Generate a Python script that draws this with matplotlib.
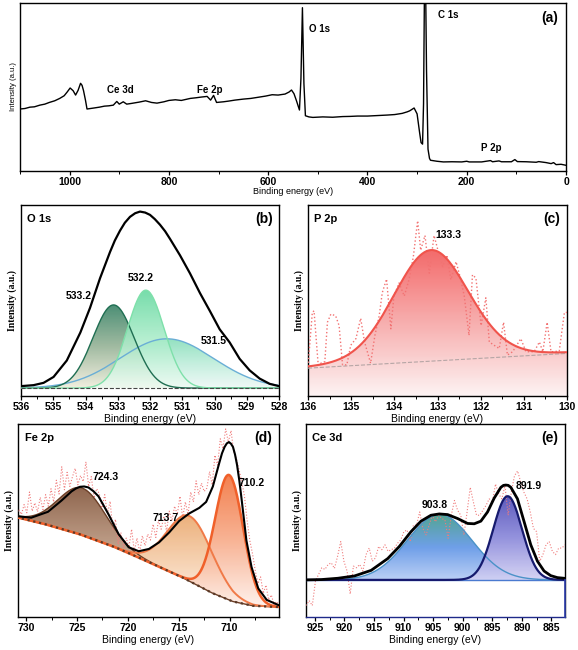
import numpy as np
import matplotlib
matplotlib.use('Agg')
import matplotlib.pyplot as plt
from matplotlib.colors import LinearSegmentedColormap
from matplotlib.ticker import MultipleLocator

plt.rcParams['font.family'] = ['Liberation Sans', 'DejaVu Sans']
plt.rcParams['font.weight'] = 'bold'

# ---------------- (a) survey spectrum ----------------
survey_ev = [1100, 1090, 1080, 1071, 1060, 1050, 1041, 1030, 1020, 1011, 1005, 999, 993, 988, 983,
             978, 975, 972, 968, 965, 958, 951, 940, 930, 921, 912, 905, 900, 892, 885, 876, 860,
             847, 835, 824, 810, 800, 787, 775, 757, 745, 735, 723, 716, 710, 704, 690, 680, 667,
             650, 635, 622, 605, 592, 580, 566, 558, 553, 548, 543, 537, 534, 531, 528, 525, 518,
             510, 490, 470, 450, 435, 420, 400, 380, 360, 345, 330, 320, 315, 306, 300, 295, 292,
             289, 287, 285, 283, 281, 278, 275, 273, 260, 247, 230, 210, 200, 195, 170, 152, 148,
             135, 130, 110, 103, 98, 80, 60, 55, 40, 30, 25, 20, 10, 0]
survey_int = [0.369, 0.372, 0.380, 0.382, 0.392, 0.398, 0.408, 0.418, 0.432, 0.448, 0.470, 0.494,
              0.478, 0.452, 0.480, 0.522, 0.510, 0.478, 0.420, 0.369, 0.372, 0.375, 0.380, 0.386,
              0.388, 0.392, 0.414, 0.398, 0.412, 0.398, 0.402, 0.410, 0.418, 0.408, 0.404, 0.412,
              0.420, 0.424, 0.420, 0.432, 0.436, 0.440, 0.444, 0.422, 0.450, 0.408, 0.412, 0.416,
              0.422, 0.428, 0.432, 0.438, 0.446, 0.454, 0.452, 0.458, 0.470, 0.482, 0.460, 0.418,
              0.363, 0.550, 0.972, 0.520, 0.329, 0.322, 0.319, 0.322, 0.320, 0.324, 0.325, 0.327,
              0.327, 0.330, 0.333, 0.336, 0.343, 0.352, 0.358, 0.375, 0.340, 0.230, 0.169, 0.160,
              0.400, 1.150, 1.150, 0.600, 0.130, 0.075, 0.064, 0.058, 0.054, 0.055, 0.054, 0.058,
              0.054, 0.054, 0.062, 0.055, 0.060, 0.055, 0.055, 0.068, 0.056, 0.055, 0.052, 0.056,
              0.050, 0.044, 0.050, 0.038, 0.040, 0.034]
survey_labels = ['O 1s', 'C 1s', 'Ce 3d', 'Fe 2p', 'P 2p']
survey_label_ev = [517, 258, 925, 743, 172]
survey_label_int = [0.847, 0.926, 0.482, 0.482, 0.139]

# ---------------- (b) O 1s ----------------
o1s_env_ev = [536.00, 535.61, 535.30, 534.99, 534.58, 534.16, 533.86, 533.55, 533.24, 533.09,
              532.93, 532.78, 532.62, 532.46, 532.31, 532.15, 532.00, 531.85, 531.69, 531.53,
              531.38, 531.07, 530.76, 530.45, 530.14, 529.84, 529.53, 529.22, 528.91, 528.60,
              528.29, 528.00]
o1s_env_int = [30, 33, 40, 58, 108, 193, 268, 358, 438, 473, 503, 527, 545, 556, 561, 558, 551,
               538, 521, 501, 478, 428, 373, 313, 258, 203, 163, 113, 78, 53, 37, 30]
o1s_base = 24
o1s_center = [533.13, 532.13, 531.48]
o1s_height = [253, 298, 150]
o1s_fwhm = [1.5, 1.34, 3.4]
o1s_labels = ['533.2', '532.2', '531.5']
o1s_label_ev = [534.22, 532.29, 530.04]
o1s_label_int = [303, 358, 168]

# ---------------- (c) P 2p ----------------
p2p_raw_ev = [136.00, 135.90, 135.86, 135.77, 135.71, 135.61, 135.55, 135.47, 135.36, 135.28,
              135.20, 135.10, 135.01, 134.89, 134.78, 134.69, 134.55, 134.45, 134.35, 134.28,
              134.18, 134.08, 134.01, 133.89, 133.77, 133.66, 133.56, 133.46, 133.39, 133.29,
              133.19, 133.08, 132.98, 132.88, 132.78, 132.69, 132.57, 132.46, 132.38, 132.27,
              132.19, 132.11, 131.99, 131.88, 131.80, 131.69, 131.57, 131.47, 131.38, 131.26,
              131.07, 130.95, 130.76, 130.64, 130.56, 130.46, 130.37, 130.18, 130.06, 130.00]
p2p_raw_int = [90, 255, 260, 105, 100, 105, 225, 250, 245, 215, 95, 95, 155, 175, 237, 165, 100,
               185, 245, 315, 357, 205, 305, 345, 305, 355, 425, 535, 445, 490, 375, 490, 440, 395,
               430, 355, 410, 355, 305, 185, 370, 360, 215, 300, 165, 155, 145, 225, 125, 135, 175,
               135, 135, 165, 135, 225, 135, 137, 255, 255]
p2p_base_ev = [136.0, 130.0]
p2p_base_int = [85, 130]
p2p_center, p2p_height, p2p_fwhm = 133.15, 339, 2.05

# ---------------- (d) Fe 2p ----------------
fe_bg_ev = [730.99, 727.85, 724.55, 721.24, 717.93, 714.63, 711.65, 709.67, 707.69, 705.11]
fe_bg_int = [304, 280, 250, 212, 167, 120, 72, 47, 34, 30]
fe_env_ev = [730.99, 729.50, 727.85, 726.53, 725.54, 725.10, 724.71, 724.30, 723.88, 723.40,
             722.89, 721.90, 720.91, 719.92, 718.93, 717.93, 716.94, 715.95, 714.96, 713.97,
             712.98, 712.31, 711.65, 711.30, 710.99, 710.75, 710.50, 710.28, 710.07, 709.87,
             709.67, 709.47, 709.27, 709.05, 708.84, 708.35, 707.85, 707.19, 706.36, 705.11]
fe_env_int = [307, 302, 320, 354, 382, 391, 396, 397, 394, 383, 367, 312, 252, 212, 200, 207,
              227, 257, 292, 315, 332, 350, 397, 437, 472, 498, 517, 528, 532, 527, 517, 494, 462,
              415, 362, 232, 152, 87, 52, 35]
fe_raw_int = [312, 327, 312, 342, 317, 380, 322, 347, 320, 364, 327, 372, 337, 390, 350, 416, 374,
              457, 387, 440, 397, 427, 452, 402, 430, 412, 472, 397, 427, 362, 390, 374, 332, 372,
              312, 352, 267, 297, 222, 257, 212, 240, 212, 267, 200, 240, 197, 247, 217, 252, 234,
              282, 242, 294, 267, 307, 260, 322, 292, 337, 312, 367, 302, 350, 312, 380, 350, 414,
              372, 407, 382, 392, 442, 402, 492, 462, 542, 512, 572, 532, 567, 502, 482, 447, 412,
              367, 292, 232, 192, 142, 102, 122, 72, 97, 52, 67, 37, 47, 34]
fe_center = [724.5, 713.9, 710.05]
fe_height = [143, 198, 380]
fe_fwhm = [5.5, 5.2, 3.25]
fe_labels = ['724.3', '713.7', '710.2']
fe_label_ev = [722.23, 716.28, 707.85]
fe_label_int = [427, 302, 407]

# ---------------- (e) Ce 3d ----------------
ce_env_ev = [926.46, 923.93, 921.12, 918.31, 915.49, 912.68, 910.71, 908.74, 907.05, 905.37,
             903.96, 902.55, 900.86, 899.18, 898.05, 896.93, 895.80, 894.68, 893.55, 893.10,
             892.71, 892.30, 891.86, 890.74, 889.61, 888.49, 887.36, 886.24, 885.11, 883.99,
             882.86]
ce_env_int = [113, 114, 118, 125, 142, 178, 215, 260, 292, 310, 314, 312, 300, 285, 284, 292, 320,
              362, 395, 401, 402, 401, 395, 360, 290, 220, 170, 140, 126, 120, 118]
ce_raw_int = [35, 50, 35, 110, 130, 150, 145, 160, 165, 148, 185, 230, 170, 140, 70, 155, 150, 160,
              140, 190, 210, 170, 180, 215, 205, 220, 200, 205, 210, 225, 235, 260, 265, 230, 280,
              280, 320, 270, 250, 280, 310, 290, 310, 300, 295, 240, 310, 355, 325, 310, 250, 320,
              395, 350, 310, 310, 325, 340, 360, 350, 405, 375, 360, 400, 310, 380, 430, 445, 410,
              380, 360, 320, 270, 260, 170, 190, 220, 230, 200, 190, 210, 210, 220]
ce_base = 113
ce_center = [903.9, 892.4]
ce_height = [200, 255]
ce_fwhm = [12.8, 5.74]
ce_labels = ['903.8', '891.9']
ce_label_ev = [904.8, 888.77]
ce_label_int = [340, 398]


def peak(e, c, h, fwhm, eta=0.0):
    x = (e - c) / (fwhm / 2.0)
    return h * ((1 - eta) * np.exp(-np.log(2) * x ** 2) + eta / (1 + x ** 2))


def grad_fill(ax, x, ylo, yhi, colors, alpha=1.0, z=1):
    poly = ax.fill_between(x, ylo, yhi, facecolor='none', edgecolor='none')
    cmap = LinearSegmentedColormap.from_list('g', colors)
    img = np.linspace(0, 1, 256).reshape(-1, 1)
    im = ax.imshow(img, cmap=cmap, aspect='auto', origin='upper', interpolation='bilinear',
                   extent=[np.min(x), np.max(x), np.min(ylo), np.max(yhi)],
                   alpha=alpha, zorder=z)
    im.set_clip_path(poly.get_paths()[0], transform=ax.transData)


def style(ax, xlim, ylim, major, minor):
    ax.set_xlim(xlim)
    ax.set_ylim(ylim)
    ax.set_yticks([])
    ax.xaxis.set_major_locator(MultipleLocator(major))
    ax.xaxis.set_minor_locator(MultipleLocator(minor))
    ax.tick_params(axis='x', which='major', direction='out', length=3, width=0.9,
                   labelsize=7.5, pad=1.5)
    ax.tick_params(axis='x', which='minor', direction='out', length=2, width=0.7)
    for s in ax.spines.values():
        s.set_linewidth(1.0)


def detail_labels(ax, name, tag):
    ax.set_xlabel('Binding energy (eV)', fontsize=7.5, labelpad=1)
    ax.set_ylabel('Intensity (a.u.)', fontsize=7, family='Liberation Serif',
                  fontweight='bold', labelpad=3)
    ax.text(0.025, 0.925, name, transform=ax.transAxes, fontsize=8, ha='left', va='center')
    ax.text(0.975, 0.925, tag, transform=ax.transAxes, fontsize=10, ha='right', va='center')


fig = plt.figure(figsize=(5.78, 6.5), dpi=100)

# (a)
ax = fig.add_axes([20 / 578, 479 / 650, 546 / 578, 168 / 650])
ax.plot(survey_ev, survey_int, color='black', lw=1.0)
style(ax, (1100, 0), (0, 1.0), 200, 100)
ax.set_xlabel('Binding energy (eV)', fontsize=6.5, fontweight='normal', labelpad=0)
ax.set_ylabel('Intensity (a.u.)', fontsize=5.5, fontweight='normal', labelpad=2)
for lab, e, i in zip(survey_labels, survey_label_ev, survey_label_int):
    ax.text(e, i, lab, fontsize=7, ha='left', va='center')
ax.text(0.985, 0.91, '(a)', transform=ax.transAxes, fontsize=10, ha='right', va='center')

# (b)
ax = fig.add_axes([21 / 578, 254 / 650, 258 / 578, 191 / 650])
grid = np.linspace(528, 536, 500)
b_fill = [['#7fdcb5', '#b9ecd8', '#eef8f6'],
          ['#2a7a5c', '#8fae90', '#f3eedc'],
          ['#5fd79c', '#a8ecc8', '#eefbf3']]
b_line = ['#6aaed6', '#1f6e52', '#7ee0aa']
for k, idx in enumerate([2, 0, 1]):
    comp = o1s_base + peak(grid, o1s_center[idx], o1s_height[idx], o1s_fwhm[idx])
    grad_fill(ax, grid, o1s_base, comp, b_fill[k], alpha=0.85, z=1 + k)
    ax.plot(grid, comp, color=b_line[k], lw=1.0, zorder=4)
ax.plot([536, 528], [o1s_base, o1s_base], color='#444444', ls='--', lw=0.8, zorder=4)
ax.plot(o1s_env_ev, o1s_env_int, color='black', lw=1.6, zorder=5)
for lab, e, i in zip(o1s_labels, o1s_label_ev, o1s_label_int):
    ax.text(e, i, lab, fontsize=7.5, ha='center', va='center', zorder=6)
style(ax, (536, 528), (0, 581), 1, 0.5)
detail_labels(ax, 'O 1s', '(b)')

# (c)
ax = fig.add_axes([308 / 578, 254 / 650, 259 / 578, 191 / 650])
grid = np.linspace(130, 136, 500)
base = np.interp(grid, p2p_base_ev[::-1], p2p_base_int[::-1])
fit = base + peak(grid, p2p_center, p2p_height, p2p_fwhm, eta=0.1)
grad_fill(ax, grid, 0, fit, ['#f25a5a', '#f7a6a6', '#fdf2f2'], alpha=0.9, z=1)
ax.plot(p2p_base_ev, p2p_base_int, color='#b5a5a5', ls='--', lw=0.8, zorder=3)
ax.plot(p2p_raw_ev, p2p_raw_int, color='#f27272', ls=':', lw=1.0, zorder=3)
ax.plot(grid, fit, color='#f0544c', lw=1.5, zorder=4)
ax.text(133.05, 490, '133.3', fontsize=7.5, ha='left', va='center', zorder=6)
style(ax, (136, 130), (0, 583), 1, 0.5)
detail_labels(ax, 'P 2p', '(c)')

# (d)
ax = fig.add_axes([18 / 578, 33 / 650, 261 / 578, 193 / 650])
grid = np.linspace(705.11, 730.99, 600)
bg = np.interp(grid, fe_bg_ev[::-1], fe_bg_int[::-1])
d_fill = [['#7b4a2e', '#b58f75', '#f3ebe2'],
          ['#e9a264', '#f5caa4', '#fdf1e7'],
          ['#f26a30', '#f7a682', '#fff0ea']]
d_line = ['#6b3e26', '#f07a48', '#f0602a']
d_lw = [1.0, 1.4, 1.8]
for k in range(3):
    comp = bg + peak(grid, fe_center[k], fe_height[k], fe_fwhm[k])
    grad_fill(ax, grid, bg, comp, d_fill[k], alpha=0.85, z=1 + k)
    ax.plot(grid, comp, color=d_line[k], lw=d_lw[k], zorder=4)
ax.plot(np.linspace(705.11, 730.99, len(fe_raw_int)), fe_raw_int[::-1], color='#f07c7c',
        ls=':', lw=0.8, zorder=3)
ax.plot(fe_bg_ev, fe_bg_int, color='#5a3a28', ls=':', lw=1.6, zorder=4)
ax.plot(fe_env_ev, fe_env_int, color='black', lw=1.5, zorder=5)
for lab, e, i in zip(fe_labels, fe_label_ev, fe_label_int):
    ax.text(e, i, lab, fontsize=7.5, ha='center', va='center', zorder=6)
style(ax, (730.8, 705.15), (0, 587), 5, 2.5)
detail_labels(ax, 'Fe 2p', '(d)')

# (e)
ax = fig.add_axes([306 / 578, 33 / 650, 259 / 578, 193 / 650])
grid = np.linspace(882.7, 926.5, 600)
e_fill = [['#3f9c86', '#5e94e6', '#b4cbf5'],
          ['#4b48b5', '#8987da', '#d2d0f3']]
e_line = ['#4a92c8', '#161a6e']
e_lw = [1.0, 1.6]
for k in range(2):
    comp = ce_base + peak(grid, ce_center[k], ce_height[k], ce_fwhm[k])
    grad_fill(ax, grid, ce_base, comp, e_fill[k], alpha=0.9, z=1 + k)
    ax.plot(grid, comp, color=e_line[k], lw=e_lw[k], zorder=4)
ax.plot(np.linspace(926.5, 882.7, len(ce_raw_int)), ce_raw_int, color='#f07c7c', ls=':',
        lw=0.8, zorder=3)
ax.plot([926.5, 882.7], [ce_base, ce_base], color='#4a7ad0', lw=1.0, zorder=3)
ax.plot(ce_env_ev, ce_env_int, color='black', lw=2.0, zorder=5)
for lab, e, i in zip(ce_labels, ce_label_ev, ce_label_int):
    ax.text(e, i, lab, fontsize=7.5, ha='center', va='center', zorder=6)
style(ax, (926.5, 882.7), (0, 588), 5, 2.5)
ax.spines['bottom'].set_color('#1f2a8a')
ax.plot([882.7, 882.7], [0, ce_base], color='#3040b0', lw=1.2, zorder=6, clip_on=False)
detail_labels(ax, 'Ce 3d', '(e)')

fig.savefig('out.png', dpi=100)
